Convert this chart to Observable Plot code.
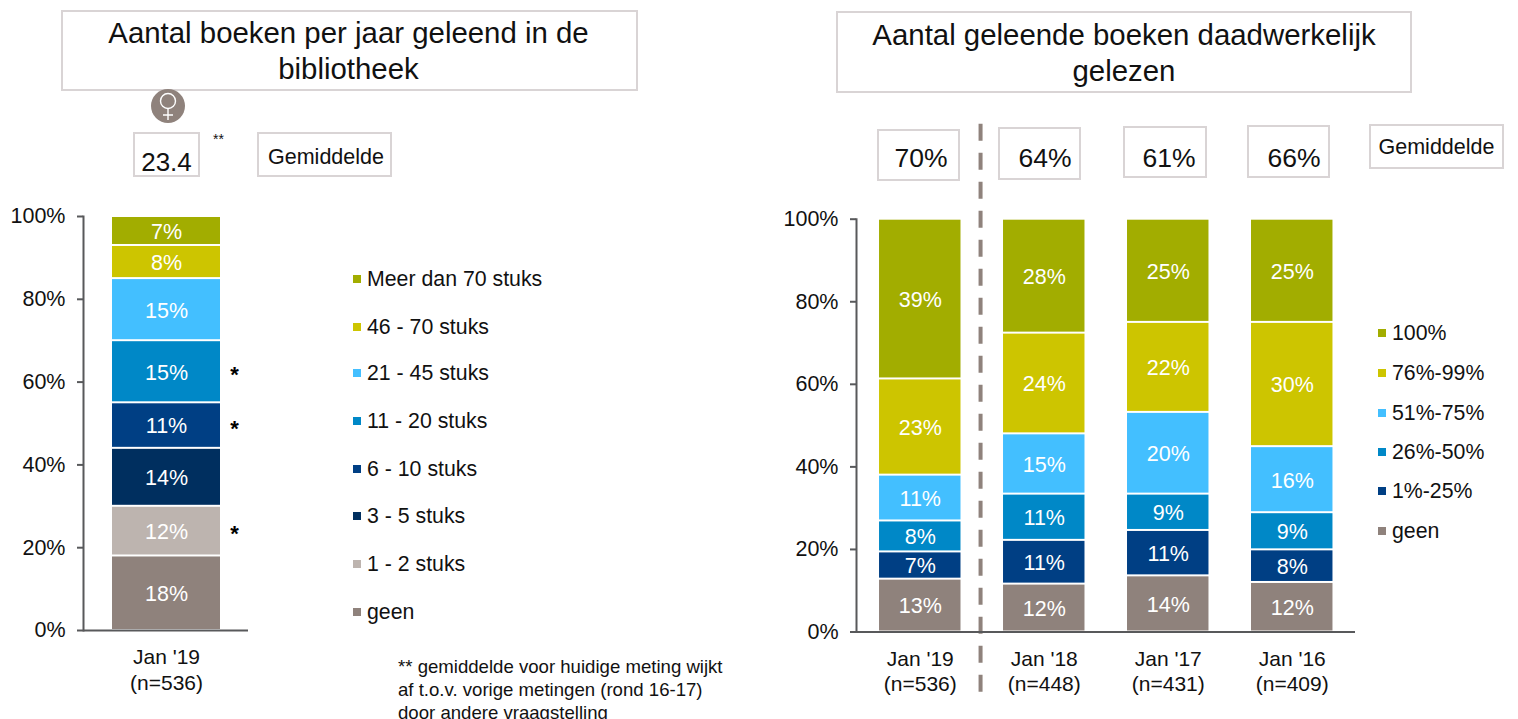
<!DOCTYPE html>
<html><head><meta charset="utf-8">
<script src="https://cdn.jsdelivr.net/npm/d3@7"></script>
<script src="https://cdn.jsdelivr.net/npm/@observablehq/plot@0.6"></script>
<style>
html,body{margin:0;padding:0;background:#fff;overflow:hidden}
#root{position:relative;width:1518px;height:719px;overflow:hidden;font-family:"Liberation Sans",Arial,sans-serif;color:#111}
.box{position:absolute;box-sizing:border-box;border:2px solid #d9d4d5;background:#fff;display:flex;align-items:center;justify-content:center;text-align:center}
.lab{position:absolute;white-space:nowrap;line-height:1}
.sw{position:absolute;width:8px;height:8px}
</style></head><body><div id="root"></div>
<script>
// ---- data ----
const leftCategories = ["Jan '19\n(n=536)"];
const leftSeries = ["geen","1 - 2 stuks","3 - 5 stuks","6 - 10 stuks","11 - 20 stuks","21 - 45 stuks","46 - 70 stuks","Meer dan 70 stuks"];
const leftValues = [18,12,14,11,15,15,8,7];
const leftColors = ["#8f827c","#bdb4af","#002f5f","#003f84","#0088c7","#43bfff","#cdc500","#a2ad00"];
const leftStars = ["1 - 2 stuks","6 - 10 stuks","11 - 20 stuks"];

const rightCategories = ["Jan '19\n(n=536)","Jan '18\n(n=448)","Jan '17\n(n=431)","Jan '16\n(n=409)"];
const rightSeries = ["geen","1%-25%","26%-50%","51%-75%","76%-99%","100%"];
const rightColors = ["#8f827c","#003f84","#0088c7","#43bfff","#cdc500","#a2ad00"];
const jan19 = [12.8,6.6,7.5,11.1,23.3,38.7];
const jan18 = [11.6,10.6,11.2,14.6,24.4,27.6];
const jan17 = [13.6,11.0,8.8,19.8,21.8,25.0];
const jan16 = [12.0,7.9,9.0,16.0,30.1,25.0];
const rightAverages = ["70%","64%","61%","66%"];

const leftTitle = ["Aantal boeken per jaar geleend in de","bibliotheek"];
const rightTitle = ["Aantal geleende boeken daadwerkelijk","gelezen"];
const leftAverage = "23.4";
const averageLabel = "Gemiddelde";
const footnote = ["** gemiddelde voor huidige meting wijkt","af t.o.v. vorige metingen (rond 16-17)","door andere vraagstelling"];

// ---- tables ----
const leftRows = leftSeries.map((s,i)=>({cat:leftCategories[0],series:s,value:leftValues[i]}));
const rightRows = [jan19,jan18,jan17,jan16].flatMap((vals,c)=>vals.map((v,i)=>({cat:rightCategories[c],series:rightSeries[i],value:v})));

// ---- helpers ----
const root = document.getElementById("root");
const FONT = '"Liberation Sans",Arial,sans-serif';
const AXIS = "#58595b";
function el(cls,css,html){const d=document.createElement("div");d.className=cls;d.style.cssText=css;if(html!=null)d.innerHTML=html;root.appendChild(d);return d;}
function box(x,y,w,h,html,fs,extra=""){return el("box",`left:${x}px;top:${y}px;width:${w}px;height:${h}px;font-size:${fs}px;${extra}`,html);}
function legend(series,colors,ys,xSw,fs){
  series.forEach((s,i)=>{
    el("sw",`left:${xSw}px;top:${ys[i]-4}px;background:${colors[i]}`);
    el("lab",`left:${xSw+14}px;top:${ys[i]-fs/2+0.8}px;font-size:${fs}px`,s);
  });
}
function chart({rows,series,colors,categories,xRange,padding,width,marginLeft,marginTop,marginBottom,left,extra}){
  const p = Plot.plot({
    width,height:719,marginLeft,marginRight:0,marginTop,marginBottom,
    style:{fontFamily:FONT,fontSize:"21px",background:"transparent",color:"#111",position:"absolute",left:left+"px",top:"0px"},
    x:{domain:categories,range:xRange,padding,round:false,label:null},
    y:{domain:[0,100],label:null},
    color:{domain:series,range:colors},
    marks:[
      Plot.barY(rows,Plot.stackY({x:"cat",y:"value",z:"series",fill:"series",insetTop:1,insetBottom:1})),
      Plot.text(rows,Plot.stackY({x:"cat",y:"value",z:"series",text:d=>Math.round(d.value)+"%",fill:"#fff",fontSize:21.5,dy:1})),
      ...(extra||[]),
      Plot.axisY({ticks:[0,20,40,60,80,100],tickFormat:d=>d+"%",tickSize:6,tickPadding:12,stroke:AXIS,strokeWidth:2,fill:"#111",label:null,fontSize:21.5}),
      Plot.axisX({tickSize:0,tickPadding:16,lineHeight:1.2,fill:"#111",label:null,fontSize:21}),
      Plot.ruleY([0],{stroke:AXIS,strokeWidth:2}),
      Plot.frame({anchor:"left",stroke:AXIS,strokeWidth:2})
    ]
  });
  root.appendChild(p);
}

// ---- titles ----
box(61,10,577,81,leftTitle.join("<br>"),29.4,"line-height:36px;padding-top:1px;padding-right:2px");
box(836,11,576,82,rightTitle.join("<br>"),29.4,"line-height:36px;padding-top:1px");

// ---- left chart ----
chart({rows:leftRows,series:leftSeries,colors:leftColors,categories:leftCategories,
  xRange:[112,220],padding:0,width:248,marginLeft:83,marginTop:216,marginBottom:89,left:0,
  extra:[Plot.text(leftRows,Plot.stackY({x:"cat",y:"value",z:"series",text:d=>leftStars.includes(d.series)?"*":"",dx:68,dy:3,fill:"#000",fontSize:22,fontWeight:"bold"}))]});

// ---- right chart ----
chart({rows:rightRows,series:rightSeries,colors:rightColors,categories:rightCategories,
  xRange:[76.5,615],padding:0.343,width:595,marginLeft:96,marginTop:218.7,marginBottom:87.5,left:760,
  extra:[Plot.ruleX([rightCategories[0]],{x:d=>d,dx:60.3,y1:-14.6,y2:123.2,stroke:"#8f827c",strokeWidth:4,strokeDasharray:"17,12"})]});

// ---- left annotations ----
const icon = document.createElementNS("http://www.w3.org/2000/svg","svg");
icon.setAttribute("width",36);icon.setAttribute("height",36);icon.setAttribute("viewBox","0 0 36 36");
icon.style.cssText="position:absolute;left:150px;top:88px";
icon.innerHTML='<circle cx="18" cy="18" r="17" fill="#8f827c"/><circle cx="18" cy="13" r="7.5" fill="none" stroke="#fff" stroke-width="1.4"/><path d="M18 20.5V32M13 27H23" stroke="#fff" stroke-width="1.4" fill="none"/>';
root.appendChild(icon);
box(133,132,67,45,leftAverage,26,"padding-top:15px");
el("lab","left:213px;top:132px;font-size:14px;color:#111","**");
box(257,132,135,45,averageLabel,21.5,"padding-top:6px;padding-left:3px");
legend(leftSeries.slice().reverse(),leftColors.slice().reverse(),[279,327,373,421,469,516,564,612],353,21.3);
footnote.forEach((t,i)=>el("lab",`left:398px;top:${[658,681,703.5][i]}px;font-size:18.6px`,t));

// ---- right annotations ----
[[877,129,83,52,921,158],[998,127,83,53,1045,158],[1123,126,84,52,1169,158],[1247,124.5,83,53,1294,158]].forEach(([x,y,w,h,tx,ty],i)=>{
  box(x,y,w,h,"",0);
  el("lab",`left:${tx}px;top:${ty}px;font-size:26.5px;transform:translate(-50%,-50%)`,rightAverages[i]);
});
box(1369,124,135,45,averageLabel,21.5,"padding-top:1px");
legend(rightSeries.slice().reverse(),rightColors.slice().reverse(),[333,373,413,452,491,531],1378,21.3);
</script></body></html>
